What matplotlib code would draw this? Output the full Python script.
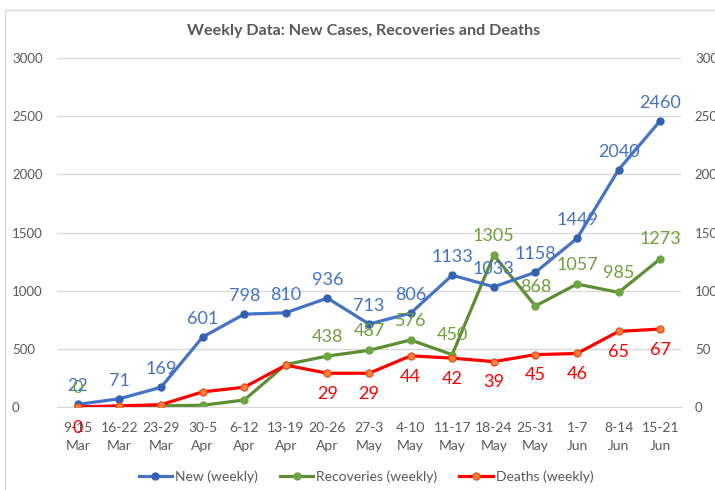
import matplotlib
matplotlib.use("Agg")
import matplotlib.pyplot as plt
from matplotlib.patches import Rectangle

plt.rcParams['font.family'] = ['Lato', 'DejaVu Sans']

# weekly data
weeks = ["9-15\nMar", "16-22\nMar", "23-29\nMar", "30-5\nApr", "6-12\nApr",
         "13-19\nApr", "20-26\nApr", "27-3\nMay", "4-10\nMay", "11-17\nMay",
         "18-24\nMay", "25-31\nMay", "1-7\nJun", "8-14\nJun", "15-21\nJun"]
new_cases = [22, 71, 169, 601, 798, 810, 936, 713, 806, 1133, 1033, 1158, 1449, 2040, 2460]
recoveries = [0, 5, 10, 15, 60, 365, 438, 487, 576, 450, 1305, 868, 1057, 985, 1273]
deaths = [0, 1, 2, 13, 17, 36, 29, 29, 44, 42, 39, 45, 46, 65, 67]

# which points carry a data label in the original
rec_labelled = [0, 6, 7, 8, 9, 10, 11, 12, 13, 14]
death_labelled = [0, 6, 7, 8, 9, 10, 11, 12, 13, 14]

blue = "#4472C4"
green_line = "#5E8E33"
green_txt = "#70A03E"
red = "#FF0000"
grey = "#595959"

fig = plt.figure(figsize=(7.15, 4.9), dpi=100)
fig.patches.append(Rectangle((5 / 715, -0.1), 1.2, 1 - 10 / 490 + 0.1,
                             transform=fig.transFigure, fill=False,
                             edgecolor="#D9D9D9", linewidth=1))
ax = fig.add_axes([57 / 715, 1 - 407 / 490, 624 / 715, 349 / 490])
ax2 = ax.twinx()

x = list(range(len(weeks)))

l1, = ax.plot(x, new_cases, color=blue, lw=2.3, marker="o", ms=5,
              mfc="#3461B0", mec="#3461B0", label="New (weekly)", zorder=3)
l2, = ax.plot(x, recoveries, color=green_line, lw=2.3, marker="o", ms=5,
              mfc="#6DA544", mec="#6DA544", label="Recoveries (weekly)", zorder=2)
l3, = ax2.plot(x, deaths, color=red, lw=2.3, marker="o", ms=5,
               mfc="#F4823A", mec="#E8531E", label="Deaths (weekly)", zorder=2)

for i, v in enumerate(new_cases):
    ax.annotate(str(v), (i, v), xytext=(0, 13), textcoords="offset points",
                ha="center", va="center", fontsize=13, color=blue, zorder=5)
for i in rec_labelled:
    ax.annotate(str(recoveries[i]), (i, recoveries[i]), xytext=(0, 14),
                textcoords="offset points", ha="center", va="center",
                fontsize=13, color=green_txt, zorder=5)
for i in death_labelled:
    ax2.annotate(str(deaths[i]), (i, deaths[i]), xytext=(0, -15),
                 textcoords="offset points", ha="center", va="center",
                 fontsize=13, color=red, zorder=5)

ax.set_xlim(-0.5, len(weeks) - 0.5)
ax.set_ylim(0, 3000)
ax2.set_ylim(0, 300)
ax.set_yticks(range(0, 3001, 500))
ax2.set_yticks(range(0, 301, 50))
ax.set_xticks(x)
ax.set_xticklabels(weeks, linespacing=1.55)
ax.yaxis.grid(True, color="#D9D9D9", lw=1)
ax.set_axisbelow(True)

for a in (ax, ax2):
    for s in a.spines.values():
        s.set_visible(False)
    a.tick_params(length=0, colors=grey, labelsize=9.5)
ax.spines["bottom"].set_visible(True)
ax.spines["bottom"].set_color("#D9D9D9")
ax2.tick_params(axis="y", pad=10)
ax.tick_params(axis="x", pad=11, labelsize=10)
ax.set_yticklabels([str(v) for v in range(0, 3001, 500)])
ax.yaxis.set_tick_params(pad=0)
for t in ax.get_yticklabels():
    t.set_horizontalalignment("left")
    t.set_position((-45 / 624, 0))

fig.text(364 / 715, 1 - 31 / 490, "Weekly Data: New Cases, Recoveries and Deaths",
         ha="center", va="center", fontsize=11.6, fontweight="bold", color=grey)

fig.legend(handles=[l1, l2, l3], loc="center", bbox_to_anchor=(366 / 715, 1 - 477 / 490),
           ncol=3, frameon=False, fontsize=10, labelcolor=grey, handlelength=2.4,
           handletextpad=0.2, columnspacing=1.6)

fig.savefig("out.png", dpi=100)
